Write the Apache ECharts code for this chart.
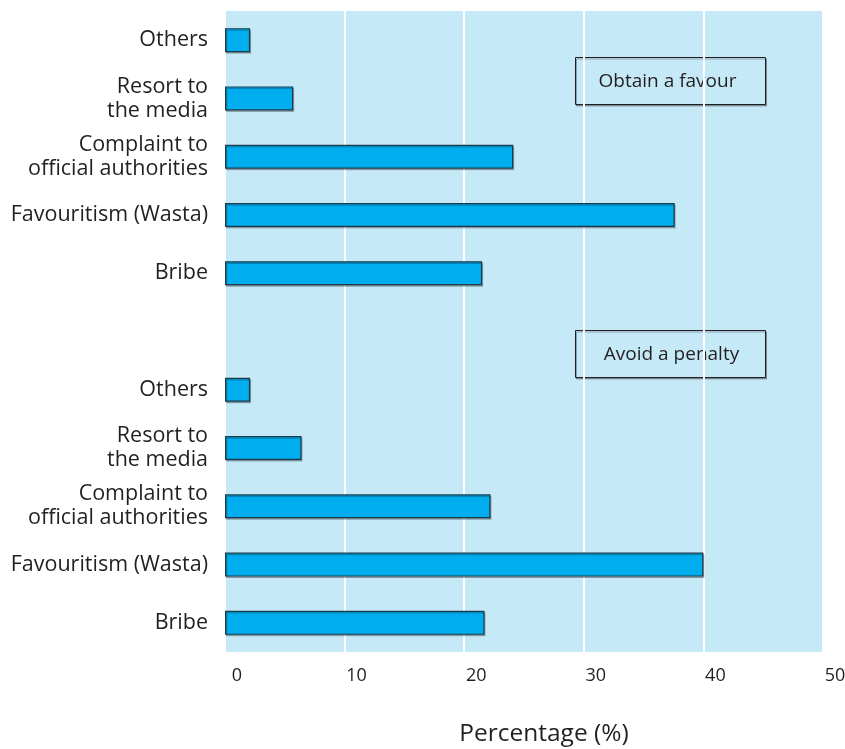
<!DOCTYPE html>
<html>
<head>
<meta charset="utf-8">
<script src="https://cdn.jsdelivr.net/npm/echarts@6/dist/echarts.min.js"></script>
<style>html,body{margin:0;padding:0;background:#fff}#c{width:845px;height:749px}</style>
</head>
<body>
<div id="c"></div>
<script>
// Category labels (bottom to top within each group)
const categories = ['Bribe', 'Favouritism (Wasta)', 'Complaint to\nofficial authorities', 'Resort to\nthe media', 'Others'];
// Values (%)
const avoidPenalty = [21.7, 40.0, 22.2, 6.4, 2.1];
const obtainFavour = [21.5, 37.6, 24.1, 5.7, 2.1];
const groupNames = ['Avoid a penalty', 'Obtain a favour'];
const xTicks = [0, 10, 20, 30, 40, 50];

// Build full category axis: bottom group, spacer, top group
const axisLabels = [...categories, '', ...categories];
const axisIds = axisLabels.map((_, i) => 'c' + i);
const values = [...avoidPenalty, null, ...obtainFavour];

const font = '"Open Sans", "Noto Sans", sans-serif';
const txt = '#231f20';
const chart = echarts.init(document.getElementById('c'));
chart.setOption({
  animation: false,
  grid: { left: 225, right: 22, top: 11, bottom: 97, show: true, backgroundColor: '#c6e9f8', borderWidth: 0,
    containLabel: false, outerBoundsMode: 'none' },
  xAxis: {
    type: 'value', min: xTicks[0], max: xTicks[xTicks.length - 1], interval: 10,
    axisLine: { show: false }, axisTick: { show: false },
    splitLine: { show: true, lineStyle: { color: '#ffffff', width: 2 } },
    axisLabel: { color: txt, fontSize: 18, fontFamily: font, margin: 15, padding: [0, 0, 0, 24], showMaxLabel: true },
    name: 'Percentage (%)', nameLocation: 'middle', nameGap: 70,
    nameTextStyle: { color: txt, fontSize: 24.5, fontFamily: font, padding: [0, 0, 0, 40] }
  },
  yAxis: {
    type: 'category', data: axisIds,
    axisLine: { show: false }, axisTick: { show: false },
    axisLabel: { color: txt, fontSize: 21.5, fontFamily: font, margin: 17, lineHeight: 24, align: 'right',
      formatter: (v, i) => axisLabels[i] },
    splitLine: { show: false }
  },
  series: [{
    type: 'bar', data: values, barWidth: 24,
    itemStyle: { color: '#00aeef', borderColor: '#1b3b4a', borderWidth: 1.2,
      shadowColor: 'rgba(0,0,0,0.25)', shadowOffsetX: 1, shadowOffsetY: 1.5, shadowBlur: 0 }
  }],
  graphic: [
    { type: 'group', left: 575, top: 57, children: [
      { type: 'rect', shape: { x: 0, y: 0, width: 190, height: 47 },
        style: { fill: '#c6e9f8', stroke: '#231f20', lineWidth: 1, shadowColor: 'rgba(0,0,0,0.3)', shadowOffsetX: 1, shadowOffsetY: 1.5 } },
      { type: 'text', x: 92, y: 24, style: { text: groupNames[1], fill: txt, font: '19px ' + font, align: 'center', verticalAlign: 'middle' } }
    ]},
    { type: 'group', left: 575, top: 330, children: [
      { type: 'rect', shape: { x: 0, y: 0, width: 190, height: 47 },
        style: { fill: '#c6e9f8', stroke: '#231f20', lineWidth: 1, shadowColor: 'rgba(0,0,0,0.3)', shadowOffsetX: 1, shadowOffsetY: 1.5 } },
      { type: 'text', x: 96, y: 24, style: { text: groupNames[0], fill: txt, font: '19px ' + font, align: 'center', verticalAlign: 'middle' } }
    ]}
  ]
});
</script>
</body>
</html>
